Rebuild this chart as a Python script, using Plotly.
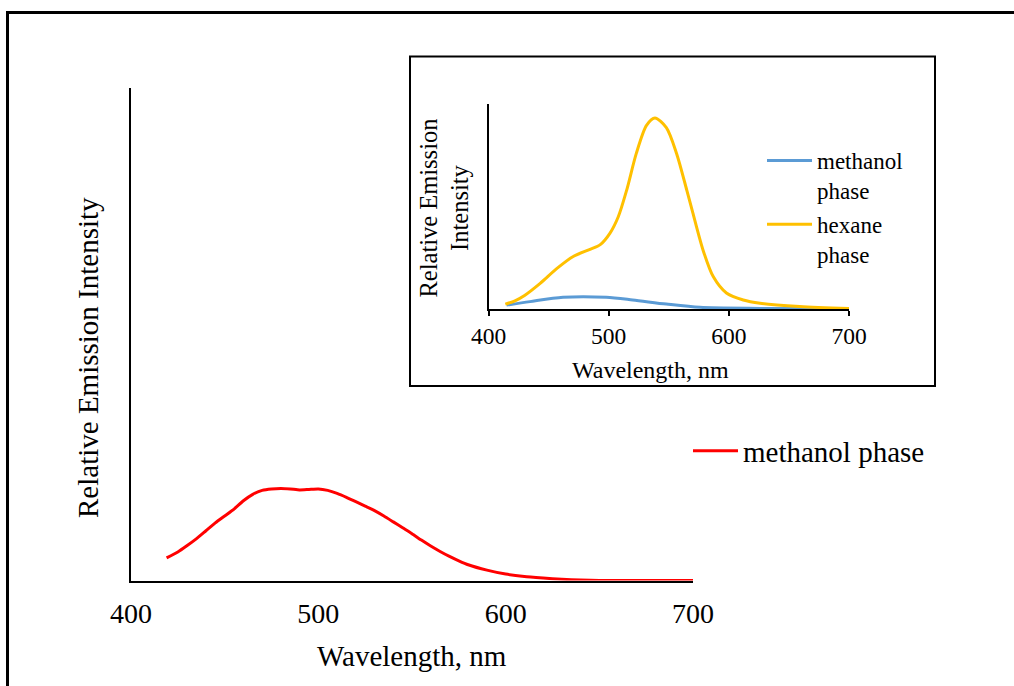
import plotly.graph_objects as go

W, H = 1014, 686

# Main chart: methanol phase (red)
main_wl = [419, 425, 430, 435, 440, 445, 450, 455, 460, 465, 470, 475, 480, 485, 490, 495, 500, 505, 510,
           515, 520, 525, 530, 535, 540, 545, 550, 555, 560, 565, 570, 575, 580, 590, 600, 610, 620, 630,
           640, 650, 700]
main_val = [4.6, 5.8, 7.1, 8.5, 10.1, 11.7, 13.1, 14.5, 16.2, 17.5, 18.3, 18.6, 18.7, 18.6, 18.4, 18.5,
            18.6, 18.3, 17.7, 16.9, 16.0, 15.1, 14.2, 13.1, 11.9, 10.7, 9.5, 8.2, 7.0, 5.9, 4.9, 4.0, 3.2,
            2.1, 1.3, 0.8, 0.5, 0.25, 0.1, 0.02, 0.0]

# Inset: methanol phase (blue) and hexane phase (yellow)
blue_wl = [415, 434.5, 462, 498, 520, 548, 576, 626, 700]
blue_val = [1.9, 3.6, 5.7, 5.7, 4.4, 2.4, 0.8, 0.3, 0.1]

hex_wl = [414, 422, 430, 443, 457, 470.5, 484.5, 493, 501, 508, 515, 523, 531.5, 538.5, 548, 556.5, 565,
          570, 578.5, 587, 598, 612, 626, 659, 700]
hex_val = [2.4, 4.0, 6.6, 12.5, 19.8, 25.6, 29.1, 31.4, 36.9, 45.0, 58.0, 75.9, 89.6, 93.2, 88.5, 75.9,
           58.0, 47.0, 28.8, 15.8, 7.8, 4.4, 2.8, 1.2, 0.2]

x_ticks = [400, 500, 600, 700]

FONT = "Liberation Serif, Times New Roman, serif"

def px(x):
    return x / W

def py(y):
    return 1 - y / H

fig = go.Figure()
fig.add_trace(go.Scatter(x=main_wl, y=main_val, mode="lines", name="methanol phase",
                         line=dict(color="#FF0000", width=3, shape="spline", smoothing=0.5),
                         xaxis="x", yaxis="y", legend="legend"))
fig.add_trace(go.Scatter(x=blue_wl, y=blue_val, mode="lines", name="methanol<br>phase",
                         line=dict(color="#5B9BD5", width=3, shape="spline", smoothing=0.8),
                         xaxis="x2", yaxis="y2", legend="legend2", legendgroup="m"))
fig.add_trace(go.Scatter(x=hex_wl, y=hex_val, mode="lines", name="hexane<br>phase",
                         line=dict(color="#FFC000", width=3, shape="spline", smoothing=0.8),
                         xaxis="x2", yaxis="y2", legend="legend2", legendgroup="h"))

fig.update_layout(
    width=W, height=H, autosize=False,
    margin=dict(l=0, r=0, t=0, b=0, pad=0, autoexpand=False),
    paper_bgcolor="white", plot_bgcolor="rgba(0,0,0,0)",
    font=dict(family=FONT, color="black"),
    xaxis=dict(domain=[px(131), px(693)], range=[400, 700], tickvals=x_ticks, automargin=False,
               showline=True, linecolor="black", linewidth=1.5, showgrid=False,
               zeroline=False, ticks="", ticklabelstandoff=7,
               tickfont=dict(size=28, family=FONT), anchor="y"),
    yaxis=dict(domain=[py(580.5), py(88)], range=[0, 100], showline=True, automargin=False,
               linecolor="black", linewidth=1.5, showgrid=False, zeroline=False,
               showticklabels=False, ticks="", anchor="x"),
    xaxis2=dict(domain=[px(488.5), px(849)], range=[400, 700], tickvals=x_ticks, automargin=False,
                showline=True, linecolor="black", linewidth=1.5, showgrid=False,
                zeroline=False, ticks="outside", ticklen=5, tickwidth=1.5, tickcolor="black",
                tickfont=dict(size=23.5, family=FONT), anchor="y2"),
    yaxis2=dict(domain=[py(309), py(104)], range=[0, 100], showline=True, automargin=False,
                linecolor="black", linewidth=1.5, showgrid=False, zeroline=False,
                showticklabels=False, ticks="", anchor="x2"),
    legend=dict(x=px(688), y=py(451), xanchor="left", yanchor="middle",
                font=dict(size=29, family=FONT), bgcolor="rgba(0,0,0,0)",
                itemwidth=45),
    legend2=dict(x=px(762), y=py(139), xanchor="left", yanchor="top",
                 font=dict(size=23, family=FONT), bgcolor="rgba(0,0,0,0)",
                 valign="top", itemwidth=45, tracegroupgap=1),
    showlegend=True,
)

fig.add_annotation(text="Relative Emission Intensity", x=px(88), y=py(358), xref="paper", yref="paper",
                   showarrow=False, textangle=-90, font=dict(size=29, family=FONT),
                   xanchor="center", yanchor="middle")
fig.add_annotation(text="Wavelength, nm", x=px(412), y=py(656), xref="paper", yref="paper",
                   showarrow=False, font=dict(size=29, family=FONT),
                   xanchor="center", yanchor="middle")
fig.add_annotation(text="Relative Emission<br>Intensity", x=px(443.5), y=py(208), xref="paper", yref="paper",
                   showarrow=False, textangle=-90, font=dict(size=24.5, family=FONT),
                   xanchor="center", yanchor="middle")
fig.add_annotation(text="Wavelength, nm", x=px(650), y=py(370), xref="paper", yref="paper",
                   showarrow=False, font=dict(size=24, family=FONT),
                   xanchor="center", yanchor="middle")

fig.add_shape(type="rect", xref="paper", yref="paper", x0=px(7.5), x1=px(1020), y0=py(12.5), y1=py(700),
              line=dict(color="black", width=3), fillcolor="rgba(0,0,0,0)", layer="above")
fig.add_shape(type="rect", xref="paper", yref="paper", x0=px(410), x1=px(935), y0=py(56.5), y1=py(386),
              line=dict(color="black", width=2), fillcolor="rgba(0,0,0,0)", layer="above")

fig.write_html("out.html", config={"displayModeBar": False},
               post_script="document.body.style.margin='0';document.body.style.overflow='hidden';")
